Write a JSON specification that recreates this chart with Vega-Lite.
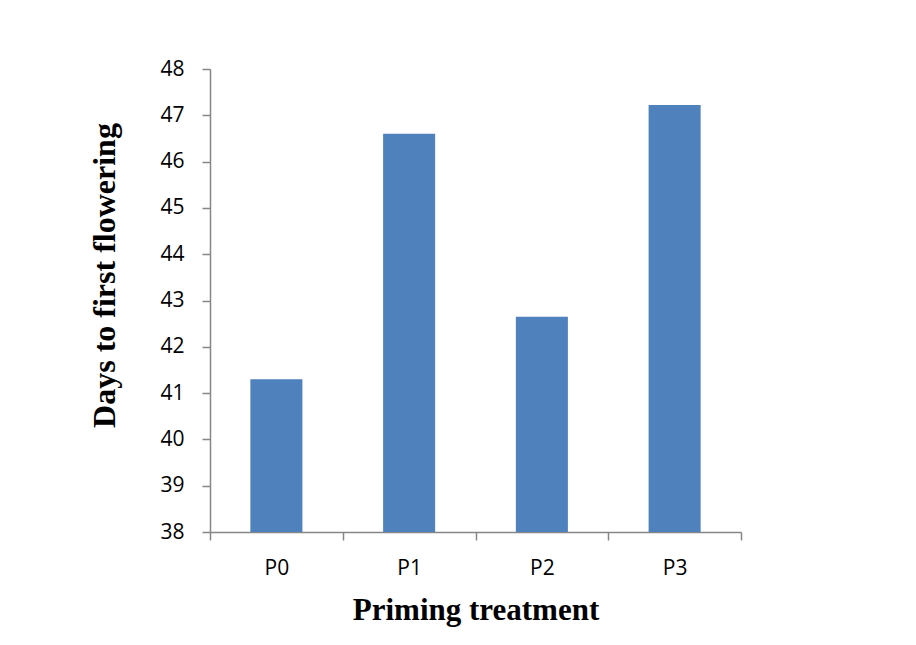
{
  "$schema": "https://vega.github.io/schema/vega-lite/v6.json",
  "width": 531,
  "height": 463,
  "autosize": {"type": "none"},
  "padding": {"left": 210, "top": 69, "right": 175, "bottom": 113},
  "background": "white",
  "data": {"values": [
    {"treatment": "P0", "days": 41.3},
    {"treatment": "P1", "days": 46.6},
    {"treatment": "P2", "days": 42.65},
    {"treatment": "P3", "days": 47.22}
  ]},
  "mark": {"type": "bar", "color": "#4F81BD", "width": {"band": 0.392}},
  "encoding": {
    "x": {
      "field": "treatment", "type": "nominal", "sort": null,
      "scale": {"paddingInner": 0, "paddingOuter": 0},
      "axis": {
        "title": "Priming treatment", "labelAngle": 0, "tickBand": "extent",
        "domainColor": "#868686", "tickColor": "#868686", "domainWidth": 1.5, "tickWidth": 1.5,
        "tickSize": 8, "labelPadding": 17, "labelFont": "Open Sans", "labelFontSize": 21, "labelColor": "#000000",
        "titleFont": "Liberation Serif", "titleFontSize": 31, "titleFontWeight": "bold", "titleColor": "#000000",
        "titlePadding": 17
      }
    },
    "y": {
      "field": "days", "type": "quantitative",
      "scale": {"domain": [38, 48], "zero": false, "nice": false},
      "axis": {
        "title": "Days to first flowering", "values": [38,39,40,41,42,43,44,45,46,47,48], "grid": false,
        "labelOverlap": false,
        "domainColor": "#868686", "tickColor": "#868686", "domainWidth": 1.5, "tickWidth": 1.5,
        "tickSize": 8, "labelPadding": 18, "labelFont": "Open Sans", "labelFontSize": 21, "labelColor": "#000000",
        "titleFont": "Liberation Serif", "titleFontSize": 32, "titleFontWeight": "bold", "titleColor": "#000000",
        "titlePadding": 38, "titleY": 206
      }
    },
    "y2": {"datum": 38}
  },
  "config": {"view": {"stroke": null}}
}
